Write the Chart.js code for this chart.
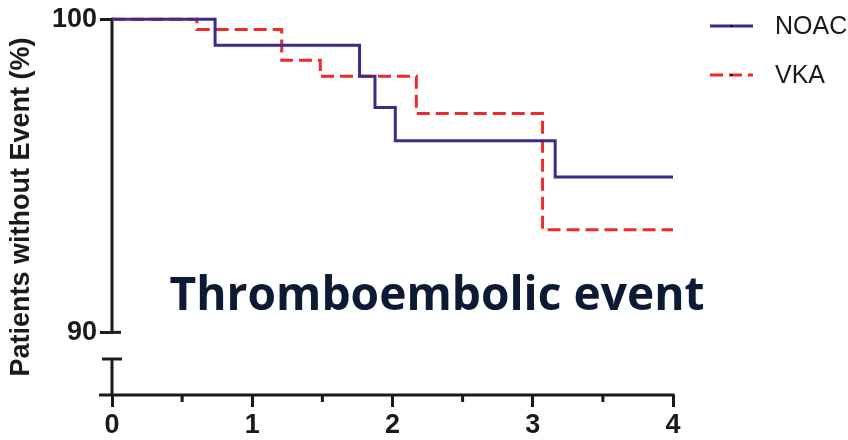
<!DOCTYPE html>
<html><head><meta charset="utf-8">
<script src="https://cdn.jsdelivr.net/npm/chart.js@4.4.0/dist/chart.umd.min.js"></script>
<style>html,body{margin:0;padding:0;background:#fff}#wrap{width:848px;height:440px}</style>
</head><body><div id="wrap"><canvas id="c" width="848" height="440"></canvas></div>
<script>
// ---- data ----
const seriesNames = ['NOAC', 'VKA'];
const noacTimes  = [0, 0.735, 1.765, 1.875, 2.02, 3.16, 4];
const noacValues = [100, 99.17, 98.18, 97.18, 96.12, 94.96, 94.96];
const vkaTimes   = [0, 0.605, 1.21, 1.485, 2.17, 3.07, 4];
const vkaValues  = [100, 99.67, 98.69, 98.18, 96.99, 93.28, 93.28];
const xTickValues = [0, 1, 2, 3, 4];
const xMinorTickValues = [0.5, 1.5, 2.5, 3.5];
const yTickValues = [90, 100];
const yAxisTitle = 'Patients without Event (%)';
const chartLabel = 'Thromboembolic event';
const yBreakValue = 89.15;
const yMin = 88, yMax = 100, xMin = 0, xMax = 4;

// ---- styles ----
const NOAC_COLOR = '#3d2a8c';
const VKA_COLOR = '#ee2a2a';
const AXIS_COLOR = '#1a1a1a';
const TICK_FONT = {family: 'Liberation Sans, Arial, sans-serif', size: 27, weight: 'bold'};

const toPts = (xs, ys) => xs.map((x, i) => ({x, y: ys[i]}));

const axisPlugin = {
  id: 'axisDecor',
  beforeDatasetsDraw(chart) {
    const {ctx, chartArea, scales: {x, y}} = chart;
    const ax = chartArea.left;
    ctx.save();
    ctx.strokeStyle = AXIS_COLOR;
    ctx.lineWidth = 3;
    ctx.lineCap = 'butt';
    // upper y-axis segment (90..100)
    ctx.beginPath();
    ctx.moveTo(ax, y.getPixelForValue(yMax) - 1.5);
    ctx.lineTo(ax, y.getPixelForValue(yTickValues[0]) + 1.5);
    ctx.stroke();
    ctx.beginPath();
    ctx.moveTo(ax, y.getPixelForValue(yTickValues[0]));
    ctx.lineTo(ax + 9, y.getPixelForValue(yTickValues[0]));
    ctx.stroke();
    // lower y-axis segment after the break
    const yb = y.getPixelForValue(yBreakValue);
    ctx.beginPath();
    ctx.moveTo(ax, yb);
    ctx.lineTo(ax, y.getPixelForValue(yMin));
    ctx.stroke();
    ctx.beginPath();
    ctx.moveTo(ax - 10, yb);
    ctx.lineTo(ax + 10, yb);
    ctx.stroke();
    // x-axis line
    const yx = y.getPixelForValue(yMin);
    ctx.beginPath();
    ctx.moveTo(ax - 13, yx);
    ctx.lineTo(x.getPixelForValue(xMax) + 1.5, yx);
    ctx.stroke();
    // minor x ticks
    xMinorTickValues.forEach(v => {
      const px = x.getPixelForValue(v);
      ctx.beginPath();
      ctx.moveTo(px, yx);
      ctx.lineTo(px, yx + 7);
      ctx.stroke();
    });
    ctx.restore();
  },
  afterDatasetsDraw(chart) {
    const {ctx, chartArea, scales: {x, y}} = chart;
    // in-plot label
    ctx.save();
    ctx.font = 'bold 47px "Open Sans", sans-serif';
    ctx.fillStyle = '#0c1b33';
    ctx.textBaseline = 'alphabetic';
    ctx.textAlign = 'left';
    const w = ctx.measureText(chartLabel).width;
    const targetW = x.getPixelForValue(3.815) - x.getPixelForValue(0);
    const left = x.getPixelForValue(0.41);
    const base = y.getPixelForValue(90.71);
    ctx.translate(left, base);
    ctx.scale(targetW / w, 1);
    ctx.fillText(chartLabel, 0, 0);
    ctx.restore();

    // legend
    ctx.save();
    const ds = chart.data.datasets;
    const lx0 = chartArea.right + 37, lx1 = chartArea.right + 80;
    const rows = [26, 75];
    ds.forEach((d, i) => {
      const ly = rows[i];
      ctx.strokeStyle = d.borderColor;
      ctx.lineWidth = d.borderWidth;
      ctx.setLineDash(d.borderDash || []);
      ctx.beginPath();
      ctx.moveTo(lx0, ly);
      ctx.lineTo(lx1, ly);
      ctx.stroke();
      ctx.setLineDash([]);
      ctx.fillStyle = '#000';
      ctx.fillRect((lx0 + lx1) / 2 - 1, ly - 1, 2, 2);
      ctx.font = '25px "Liberation Sans", Arial, sans-serif';
      ctx.fillStyle = AXIS_COLOR;
      ctx.textBaseline = 'middle';
      ctx.textAlign = 'left';
      ctx.fillText(d.label, chartArea.right + 102, ly + 1.5);
    });
    ctx.restore();
  }
};

new Chart(document.getElementById('c'), {
  type: 'line',
  data: {
    datasets: [
      {label: seriesNames[0], data: toPts(noacTimes, noacValues), borderColor: NOAC_COLOR,
       borderWidth: 3, stepped: 'before', pointRadius: 0, fill: false, clip: false},
      {label: seriesNames[1], data: toPts(vkaTimes, vkaValues), borderColor: VKA_COLOR,
       borderWidth: 3, borderDash: [13, 6], stepped: 'before', pointRadius: 0, fill: false, clip: false}
    ]
  },
  options: {
    responsive: false,
    animation: false,
    devicePixelRatio: 1,
    layout: {padding: {left: 0, top: 19, right: 175, bottom: 0}},
    plugins: {legend: {display: false}, tooltip: {enabled: false}},
    scales: {
      x: {
        type: 'linear', min: xMin, max: xMax,
        afterBuildTicks: s => { s.ticks = xTickValues.map(v => ({value: v})); },
        afterFit: s => { s.height = 45; },
        ticks: {font: TICK_FONT, color: AXIS_COLOR, padding: 2, maxRotation: 0},
        grid: {display: true, drawOnChartArea: false, drawTicks: true, tickLength: 12, tickWidth: 3, tickColor: AXIS_COLOR},
        border: {display: false}
      },
      y: {
        type: 'linear', min: yMin, max: yMax,
        afterBuildTicks: s => { s.ticks = yTickValues.map(v => ({value: v})); },
        afterFit: s => { s.width = 112; },
        ticks: {font: TICK_FONT, color: AXIS_COLOR, padding: 3},
        grid: {display: true, drawOnChartArea: false, drawTicks: true, tickLength: 12, tickWidth: 3, tickColor: AXIS_COLOR},
        border: {display: false},
        title: {display: true, text: yAxisTitle, color: AXIS_COLOR,
                font: {family: 'Liberation Sans, Arial, sans-serif', size: 27, weight: 'bold'},
                padding: {top: 5, bottom: 0}}
      }
    }
  },
  plugins: [axisPlugin]
});
</script>
</body></html>
